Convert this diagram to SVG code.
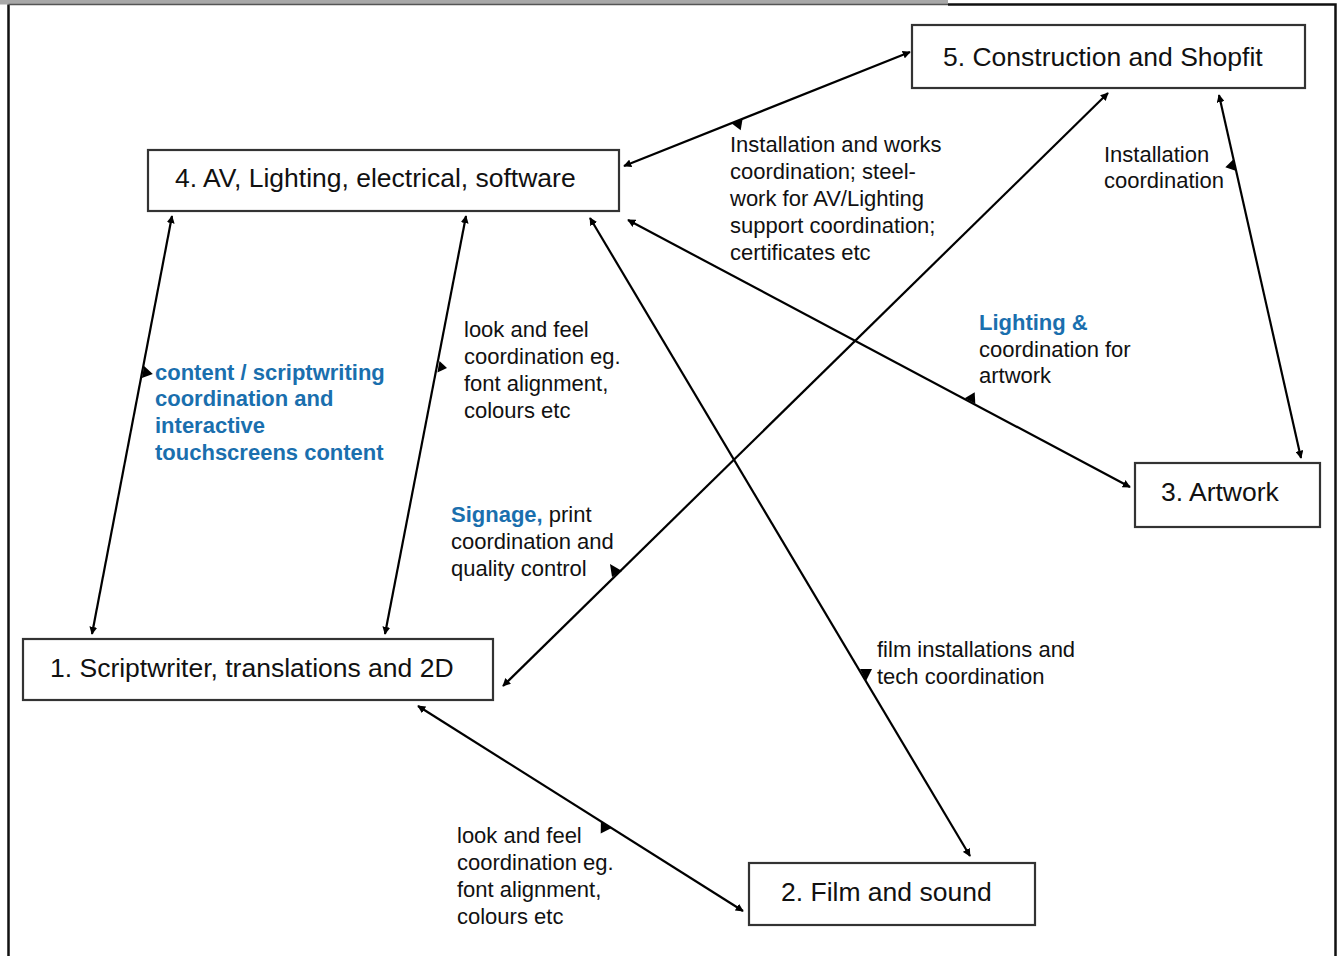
<svg xmlns="http://www.w3.org/2000/svg" width="1341" height="956" viewBox="0 0 1341 956">
<defs>
<marker id="ah" viewBox="0 0 10 10" refX="9" refY="5" markerWidth="8" markerHeight="8" markerUnits="userSpaceOnUse" orient="auto-start-reverse">
<path d="M0,0 L10,5 L0,10 z" fill="#000"/>
</marker>
<style>
.box{fill:#fff;stroke:#333;stroke-width:2.2}
.title{font-family:"Liberation Sans",Arial,sans-serif;font-size:26.5px;fill:#111}
.lbl{font-family:"Liberation Sans",Arial,sans-serif;font-size:22px;fill:#111}
.blue{font-weight:bold;fill:#1a6fae}
.con{stroke:#000;stroke-width:2.2;fill:none;marker-start:url(#ah);marker-end:url(#ah)}
.tri{fill:#000}
</style>
</defs>
<rect x="0" y="0" width="1341" height="956" fill="#fff"/>
<rect x="0" y="0" width="948" height="4.5" fill="#a8a8a8"/>
<path d="M8.5,4.5 V956 M948,4.5 H1335.5 V956" stroke="#111" stroke-width="2.5" fill="none"/>
<path d="M8.5,4.5 H948" stroke="#555" stroke-width="1.5" fill="none"/>

<g id="connectors">
<line class="con" x1="624" y1="166" x2="910" y2="52"/>
<line class="con" x1="172" y1="216" x2="92" y2="634"/>
<line class="con" x1="466" y1="216" x2="385" y2="634"/>
<line class="con" x1="1108" y1="93" x2="503" y2="686"/>
<line class="con" x1="590" y1="218" x2="970" y2="856"/>
<line class="con" x1="628" y1="220" x2="1130" y2="487"/>
<line class="con" x1="1219" y1="95" x2="1301" y2="458"/>
<line class="con" x1="418" y1="706" x2="743" y2="911"/>
<polygon class="tri" points="731.4,123.2 742.6,118.8 740.7,130.3"/>
<polygon class="tri" points="144.1,366.1 141.9,377.9 152.8,373.9"/>
<polygon class="tri" points="439.5,361 437.4,372.5 447,368"/>
<polygon class="tri" points="610,564 612,577 622,571"/>
<polygon class="tri" points="860,669 872,669 866,681"/>
<polygon class="tri" points="964.7,398.2 975.3,403.8 974.7,392.2"/>
<polygon class="tri" points="1233.7,159.1 1236.3,170.9 1225.3,167.2"/>
<polygon class="tri" points="600.9,821.8 611.1,828.2 600.7,833.5"/>
</g>

<g id="node5">
<rect class="box" x="912" y="25" width="393" height="63"/>
<text class="title" x="943" y="66">5. Construction and Shopfit</text>
</g>
<g id="node4">
<rect class="box" x="148" y="150" width="471" height="61"/>
<text class="title" x="175" y="187">4. AV, Lighting, electrical, software</text>
</g>
<g id="node3">
<rect class="box" x="1135" y="463" width="185" height="64"/>
<text class="title" x="1161" y="501">3. Artwork</text>
</g>
<g id="node1">
<rect class="box" x="23" y="639" width="470" height="61"/>
<text class="title" x="50" y="677">1. Scriptwriter, translations and 2D</text>
</g>
<g id="node2">
<rect class="box" x="749" y="863" width="286" height="62"/>
<text class="title" x="781" y="901">2. Film and sound</text>
</g>

<g id="labels">
<text class="lbl" x="730" y="152">Installation and works</text>
<text class="lbl" x="730" y="179">coordination; steel-</text>
<text class="lbl" x="730" y="206">work for AV/Lighting</text>
<text class="lbl" x="730" y="233">support coordination;</text>
<text class="lbl" x="730" y="260">certificates etc</text>

<text class="lbl" x="1104" y="162">Installation</text>
<text class="lbl" x="1104" y="188">coordination</text>

<text class="lbl" x="464" y="337">look and feel</text>
<text class="lbl" x="464" y="364">coordination eg.</text>
<text class="lbl" x="464" y="391">font alignment,</text>
<text class="lbl" x="464" y="418">colours etc</text>

<text class="lbl blue" x="155" y="380">content / scriptwriting</text>
<text class="lbl blue" x="155" y="406">coordination and</text>
<text class="lbl blue" x="155" y="433">interactive</text>
<text class="lbl blue" x="155" y="460">touchscreens content</text>

<text class="lbl blue" x="979" y="330">Lighting &amp;</text>
<text class="lbl" x="979" y="357">coordination for</text>
<text class="lbl" x="979" y="383">artwork</text>

<text class="lbl" x="451" y="522"><tspan class="blue">Signage,</tspan> print</text>
<text class="lbl" x="451" y="549">coordination and</text>
<text class="lbl" x="451" y="576">quality control</text>

<text class="lbl" x="877" y="657">film installations and</text>
<text class="lbl" x="877" y="684">tech coordination</text>

<text class="lbl" x="457" y="843">look and feel</text>
<text class="lbl" x="457" y="870">coordination eg.</text>
<text class="lbl" x="457" y="897">font alignment,</text>
<text class="lbl" x="457" y="924">colours etc</text>
</g>
</svg>
